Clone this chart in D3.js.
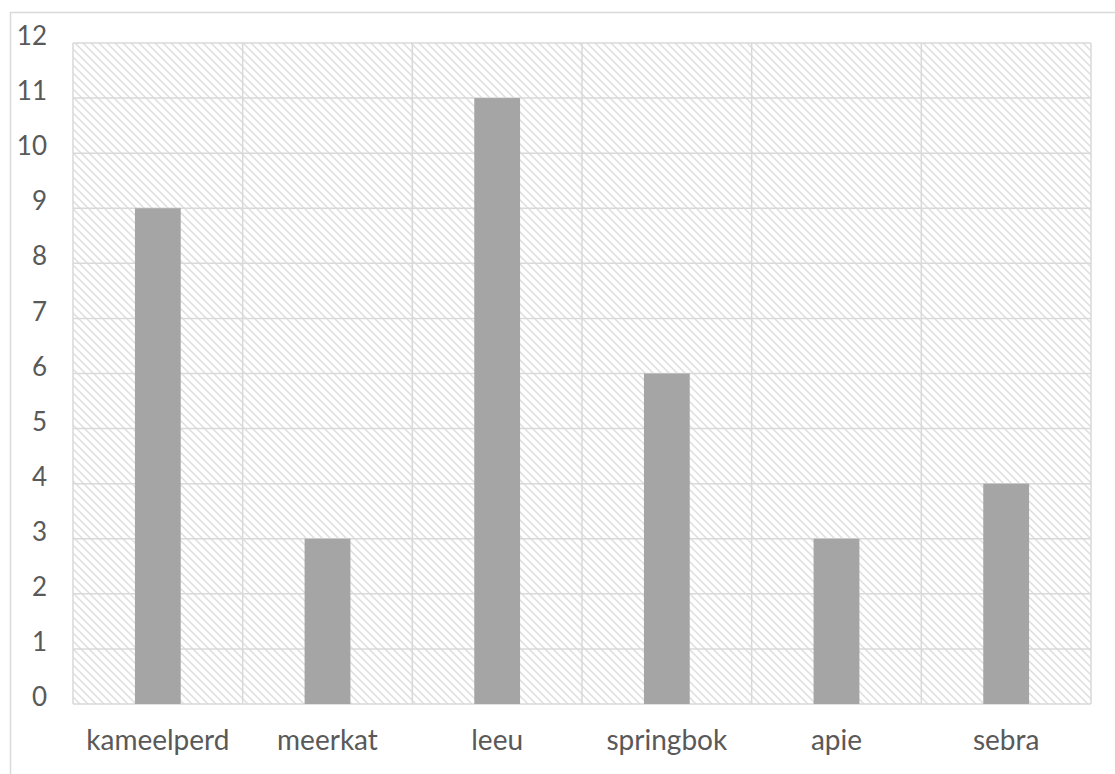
<!DOCTYPE html>
<html>
<head>
<meta charset="utf-8">
<script src="https://cdnjs.cloudflare.com/ajax/libs/d3/7.8.5/d3.min.js"></script>
<style>
  body { margin: 0; background: #fff; }
  text { font-family: Lato, "Open Sans", sans-serif; fill: #595959; }
</style>
</head>
<body>
<div id="chart"></div>
<script>
var width = 1115,
    height = 774;

var animals = ["kameelperd", "meerkat", "leeu", "springbok", "apie", "sebra"];
var counts = [9, 3, 11, 6, 3, 4];
var yTicks = [0, 1, 2, 3, 4, 5, 6, 7, 8, 9, 10, 11, 12];

var margin = { top: 43, right: 24, bottom: 70, left: 73 };
var gridColor = "#d9d9d9";

var svg = d3.select("#chart").append("svg")
    .attr("width", width)
    .attr("height", height);

// hatch for the plot area
var defs = svg.append("defs");
var pat = defs.append("pattern")
    .attr("id", "hatch")
    .attr("patternUnits", "userSpaceOnUse")
    .attr("width", 8)
    .attr("height", 8);
pat.append("rect").attr("width", 8).attr("height", 8).attr("fill", "#fff");
pat.append("path")
    .attr("d", "M-2,-2L10,10M-2,6L2,10M6,-2L10,2")
    .attr("stroke", "#dedede")
    .attr("stroke-width", 1.5);

// outer chart border (runs off the right / bottom)
svg.append("rect")
    .attr("x", 10.5).attr("y", 12.5)
    .attr("width", width + 20).attr("height", height + 20)
    .attr("fill", "none")
    .attr("stroke", gridColor)
    .attr("stroke-width", 1.5);

var x = d3.scaleBand()
    .domain(animals)
    .range([margin.left, width - margin.right])
    .padding(0);

var y = d3.scaleLinear()
    .domain([0, 12])
    .range([height - margin.bottom, margin.top]);

var g = svg.append("g");

g.append("rect")
    .attr("x", x.range()[0])
    .attr("y", y(12))
    .attr("width", x.range()[1] - x.range()[0])
    .attr("height", y(0) - y(12))
    .attr("fill", "url(#hatch)");

// horizontal gridlines
g.selectAll(".hgrid")
  .data(yTicks)
  .enter().append("line")
    .attr("x1", x.range()[0])
    .attr("x2", x.range()[1])
    .attr("y1", function(d) { return y(d); })
    .attr("y2", function(d) { return y(d); })
    .attr("stroke", gridColor)
    .attr("stroke-width", 1.5);

// vertical gridlines at band edges
var edges = animals.map(function(a) { return x(a); }).concat([x.range()[1]]);
g.selectAll(".vgrid")
  .data(edges)
  .enter().append("line")
    .attr("x1", function(d) { return d; })
    .attr("x2", function(d) { return d; })
    .attr("y1", y(0))
    .attr("y2", y(12))
    .attr("stroke", gridColor)
    .attr("stroke-width", 1.5);

// bars
var barW = x.bandwidth() * 0.27;
g.selectAll(".bar")
  .data(counts)
  .enter().append("rect")
    .attr("x", function(d, i) { return x(animals[i]) + (x.bandwidth() - barW) / 2; })
    .attr("y", function(d) { return y(d); })
    .attr("width", barW)
    .attr("height", function(d) { return y(0) - y(d); })
    .attr("fill", "#a5a5a5");

// y labels
g.selectAll(".ylab")
  .data(yTicks)
  .enter().append("text")
    .attr("x", 47)
    .attr("y", function(d) { return y(d) - 7; })
    .attr("dy", "0.35em")
    .attr("text-anchor", "end")
    .style("font-size", "26px")
    .text(function(d) { return d; });

// x labels
g.selectAll(".xlab")
  .data(animals)
  .enter().append("text")
    .attr("x", function(d) { return x(d) + x.bandwidth() / 2; })
    .attr("y", 750)
    .attr("text-anchor", "middle")
    .style("font-size", "28px")
    .text(function(d) { return d; });
</script>
</body>
</html>
